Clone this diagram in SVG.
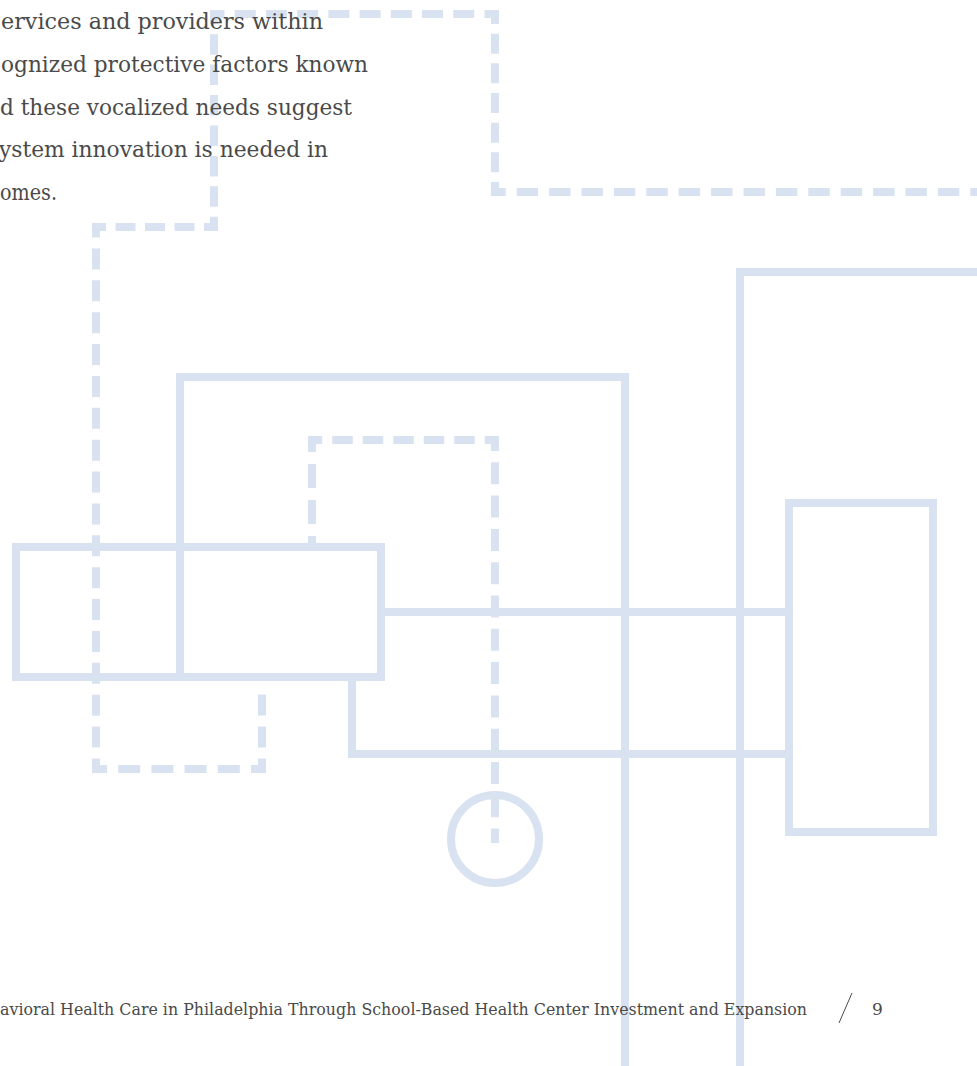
<svg xmlns="http://www.w3.org/2000/svg" width="977" height="1066" viewBox="0 0 977 1066">
<style>
.s{fill:none;stroke:#d9e2f1;stroke-width:8}
.d{fill:none;stroke:#d9e2f1;stroke-width:8;stroke-linecap:square}
.b{font-family:"DejaVu Serif","Liberation Serif",serif;font-size:22px;fill:#4a4a4a}
.f{font-family:"DejaVu Serif","Liberation Serif",serif;font-size:17px;fill:#4a4a4a}
</style>
<rect width="977" height="1066" fill="#ffffff"/>
<g id="connectors">
<g id="dashed-outer">
<line class="d" x1="262" y1="769" x2="262" y2="683" stroke-dasharray="13 19" stroke-dashoffset="6.5"/>
<line class="d" x1="262" y1="769" x2="96" y2="769" stroke-dasharray="14 19.2" stroke-dashoffset="7"/>
<line class="d" x1="96" y1="769" x2="96" y2="227" stroke-dasharray="13 18.88" stroke-dashoffset="6.5"/>
<line class="d" x1="96" y1="227" x2="214" y2="227" stroke-dasharray="12 17.5" stroke-dashoffset="6"/>
<line class="d" x1="214" y1="227" x2="214" y2="14" stroke-dasharray="12.5 17.93" stroke-dashoffset="6.25"/>
<line class="d" x1="214" y1="14" x2="495" y2="14" stroke-dasharray="13 18.22" stroke-dashoffset="6.5"/>
<line class="d" x1="495" y1="14" x2="495" y2="192" stroke-dasharray="12 17.67" stroke-dashoffset="6"/>
<line class="d" x1="495" y1="192" x2="981" y2="192" stroke-dasharray="13.4 19" stroke-dashoffset="6.7"/>
</g>
<g id="dashed-inner">
<line class="d" x1="312" y1="440" x2="312" y2="547" stroke-dasharray="16 20" stroke-dashoffset="8"/>
<line class="d" x1="312" y1="440" x2="495" y2="440" stroke-dasharray="12.5 18" stroke-dashoffset="6.25"/>
<line class="d" x1="495" y1="440" x2="495" y2="839" stroke-dasharray="14 19.3" stroke-dashoffset="7"/>
</g>
<g id="solid-lines">
<path class="s" d="M180,677 V377 H625 V1070"/>
<path class="s" d="M740,1070 V272 H981"/>
<line class="s" x1="381" y1="612" x2="789" y2="612"/>
<path class="s" d="M352,677 V754 H789"/>
</g>
</g>
<g id="left-box"><rect class="s" x="16" y="547" width="365" height="130"/></g>
<g id="right-box"><rect class="s" x="789" y="503" width="144" height="329"/></g>
<g id="circle"><circle class="s" cx="495" cy="839" r="44"/></g>
<g id="body-text">
<text class="b" x="1" y="29" textLength="322" lengthAdjust="spacingAndGlyphs">ervices and providers within</text>
<text class="b" x="1" y="72" textLength="367" lengthAdjust="spacingAndGlyphs">ognized protective factors known</text>
<text class="b" x="0" y="115" textLength="352" lengthAdjust="spacingAndGlyphs">d these vocalized needs suggest</text>
<text class="b" x="-1" y="157" textLength="329" lengthAdjust="spacingAndGlyphs">ystem innovation is needed in</text>
<text class="b" x="0" y="200" textLength="57" lengthAdjust="spacingAndGlyphs">omes.</text>
</g>
<g id="footer">
<text class="f" x="0" y="1015" textLength="807" lengthAdjust="spacingAndGlyphs">avioral Health Care in Philadelphia Through School-Based Health Center Investment and Expansion</text>
<line x1="852" y1="993" x2="839" y2="1023" stroke="#4a4a4a" stroke-width="1"/>
<text class="f" x="872" y="1015">9</text>
</g>
</svg>
